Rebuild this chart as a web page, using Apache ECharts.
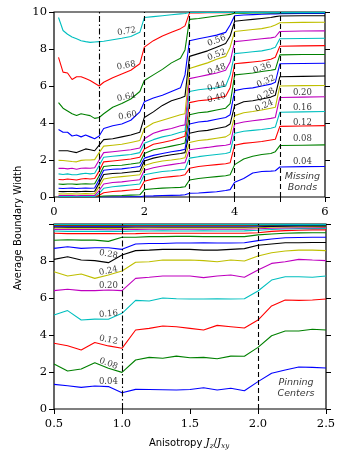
<!DOCTYPE html>
<html>
<head>
<meta charset="utf-8">
<script src="https://cdn.jsdelivr.net/npm/echarts@6/dist/echarts.min.js"></script>
<style>
  html, body { margin: 0; padding: 0; background: #fff; }
  #chart { width: 360px; height: 455px; }
</style>
</head>
<body>
<div id="chart"></div>
<script>
// top panel: missing bonds, x = bond fraction index
const topX = [0.1,0.2,0.3,0.4,0.5,0.6,0.7,0.8,0.9,1.0,1.1,1.3,1.5,1.7,1.9,2.0,2.2,2.4,2.6,2.8,2.9,3.0,3.2,3.4,3.6,3.8,3.9,4.0,4.2,4.4,4.6,4.8,4.9,5.0,5.5,6.0]
const top04 = [0,0,0,0,0,0,0,0,0, 0, 0,0,0,0.01,0.01, 0.05,0.06,0.08,0.09,0.1,0.12, 0.2,0.22,0.25,0.28,0.35,0.4, 0.8,1.0,1.3,1.38,1.4,1.42, 1.62,1.64,1.65]
const top08 = [0,0,0,0,0,0,0,0,0, 0.02, 0.05,0.07,0.08,0.1,0.12, 0.4,0.45,0.48,0.5,0.52,0.55, 0.92,1.0,1.05,1.1,1.15,1.2, 1.75,2.05,2.2,2.3,2.35,2.45, 2.78,2.8,2.82]
const top12 = [0.01,0.01,0.01,0.01,0.01,0.01,0.01,0.01,0.01, 0.1, 0.23,0.3,0.33,0.38,0.42, 0.85,0.98,1.05,1.1,1.15,1.2, 1.55,1.65,1.7,1.75,1.8,1.85, 2.8,2.9,2.95,3.0,3.08,3.12, 3.82,3.84,3.86]
const top16 = [0.03,0.03,0.03,0.03,0.03,0.03,0.03,0.03,0.03, 0.2, 0.47,0.55,0.6,0.65,0.7, 1.2,1.3,1.38,1.42,1.48,1.5, 2.1,2.18,2.24,2.3,2.35,2.42, 3.45,3.55,3.6,3.65,3.72,3.78, 4.58,4.6,4.62]
const top20 = [0.08,0.08,0.08,0.08,0.07,0.08,0.08,0.08,0.09, 0.35, 0.7,0.78,0.82,0.88,0.93, 1.45,1.58,1.68,1.75,1.82,1.86, 2.55,2.62,2.68,2.75,2.8,2.85, 3.95,4.05,4.12,4.18,4.25,4.3, 5.38,5.4,5.42]
const top24 = [0.17,0.16,0.17,0.17,0.16,0.17,0.18,0.17,0.18, 0.55, 0.97,1.05,1.1,1.15,1.2, 1.7,1.85,1.95,2.0,2.07,2.12, 2.95,3.05,3.1,3.18,3.25,3.4, 4.4,4.55,4.62,4.7,4.8,4.85, 6.0,6.02,6.03]
const top28 = [0.3,0.29,0.3,0.3,0.29,0.3,0.31,0.3,0.31, 0.75, 1.22,1.27,1.3,1.35,1.4, 1.95,2.1,2.2,2.28,2.35,2.4, 3.45,3.55,3.6,3.7,3.8,3.95, 4.95,5.15,5.2,5.3,5.4,5.5, 6.5,6.52,6.54]
const top32 = [0.47,0.46,0.47,0.48,0.46,0.47,0.48,0.47,0.49, 0.95, 1.45,1.5,1.52,1.58,1.65, 2.1,2.25,2.35,2.45,2.52,2.58, 3.95,4.05,4.1,4.2,4.3,4.45, 5.75,5.85,5.9,6.0,6.1,6.2, 7.2,7.22,7.23]
const top36 = [0.7,0.68,0.7,0.7,0.68,0.7,0.72,0.7,0.72, 1.15, 1.65,1.7,1.72,1.78,1.85, 2.35,2.55,2.65,2.75,2.85,2.92, 4.45,4.55,4.6,4.7,4.8,5.05, 6.6,6.65,6.7,6.78,6.85,6.9, 7.68,7.7,7.7]
const top40 = [0.95,0.93,0.97,0.95,0.92,0.97,1.0,0.97,1.0, 1.4, 1.9,1.95,2.0,2.05,2.15, 2.6,2.85,2.95,3.05,3.2,3.28, 5.1,5.2,5.25,5.35,5.45,5.9, 7.2,7.25,7.3,7.35,7.45,7.55, 8.15,8.17,8.18]
const top44 = [1.25,1.22,1.25,1.2,1.2,1.25,1.28,1.25,1.28, 1.7, 2.15,2.2,2.25,2.3,2.4, 2.9,3.1,3.25,3.35,3.5,3.55, 5.7,5.8,5.85,5.9,6.0,6.6, 7.75,7.8,7.85,7.9,8.0,8.1, 8.55,8.57,8.58]
const top48 = [1.55,1.55,1.52,1.55,1.5,1.55,1.57,1.55,1.58, 2.0, 2.4,2.45,2.5,2.55,2.65, 3.15,3.45,3.6,3.7,3.85,3.9, 6.4,6.5,6.6,6.7,6.85,7.3, 8.4,8.45,8.5,8.55,8.6,8.65, 8.95,8.97,8.98]
const top52 = [1.98,1.97,1.95,1.92,1.9,1.98,2.0,2.0,2.02, 2.4, 2.75,2.8,2.85,2.95,3.05, 3.7,4.0,4.15,4.3,4.45,4.5, 6.95,7.1,7.25,7.45,7.6,8.1, 8.95,9.0,9.05,9.1,9.2,9.3, 9.42,9.44,9.45]
const top56 = [2.5,2.5,2.5,2.45,2.4,2.5,2.6,2.55,2.5, 2.8, 3.1,3.15,3.25,3.35,3.5, 4.3,4.6,4.95,5.2,5.35,5.45, 7.6,7.75,7.9,8.1,8.3,8.7, 9.5,9.55,9.6,9.65,9.7,9.75, 9.78,9.8,9.8]
const top60 = [3.65,3.5,3.5,3.3,3.35,3.25,3.35,3.25,3.15, 3.3, 3.7,3.85,3.95,4.15,4.6, 5.15,5.35,5.5,5.7,5.9,6.6, 8.45,8.55,8.65,8.75,8.9,9.3, 9.8,9.84,9.86,9.88,9.9,9.9, 9.91,9.92,9.92]
const top64 = [5.1,4.8,4.65,4.5,4.4,4.5,4.45,4.4,4.25, 4.3, 4.5,4.85,5.05,5.3,5.7, 6.3,6.6,6.9,7.25,7.5,7.95, 9.6,9.65,9.72,9.78,9.84,9.87, 9.94,9.94,9.95,9.95,9.95,9.95, 9.95,9.96,9.96]
const top68 = [7.55,6.75,6.7,6.35,6.5,6.5,6.4,6.3,6.15, 6.0, 6.2,6.45,6.65,6.85,7.2, 8.1,8.45,8.7,8.9,9.1,9.25, 9.95,9.95,9.96,9.96,9.96,9.96, 9.97,9.97,9.97,9.97,9.97,9.97, 9.97,9.97,9.97]
const top72 = [9.7,9.0,8.8,8.65,8.55,8.45,8.4,8.36,8.38, 8.4, 8.42,8.5,8.58,8.68,8.9, 9.7,9.75,9.8,9.85,9.9,9.92, 9.97,9.97,9.97,9.98,9.98,9.98, 9.98,9.98,9.98,9.98,9.98,9.98, 9.98,9.98,9.98]

// bottom panel: pinning centers vs anisotropy
const botX = [0.5,0.6,0.7,0.8,0.9,1.0,1.1,1.2,1.3,1.4,1.5,1.6,1.7,1.8,1.9,2.0,2.1,2.2,2.3,2.4,2.5]
const bot04 = [1.33,1.26,1.17,1.24,1.21,0.88,1.06,1.05,1.04,1.03,1.05,1.15,1.03,1.12,0.99,1.48,1.93,2.11,2.27,2.25,2.22]
const bot08 = [2.43,2.05,2.16,2.5,2.2,1.98,2.65,2.79,2.74,2.86,2.77,2.79,2.72,2.86,2.85,3.33,3.96,4.22,4.22,4.31,4.27]
const bot12 = [3.55,3.42,3.19,3.59,3.41,3.28,4.27,4.36,4.49,4.45,4.36,4.27,4.52,4.45,4.38,4.81,5.57,5.89,5.87,5.89,5.95]
const bot16 = [5.08,5.32,4.81,4.86,4.85,5.17,5.87,5.84,6.0,5.96,5.95,5.95,5.96,5.95,5.96,6.38,6.97,7.15,7.15,7.12,7.19]
const bot20 = [6.4,6.47,6.4,6.4,6.43,6.4,7.06,7.12,7.19,7.19,7.19,7.1,7.19,7.24,7.12,7.51,7.87,7.96,8.09,8.05,8.02]
const bot24 = [7.42,7.19,7.3,7.06,7.24,7.46,7.93,7.96,8.05,8.05,8.05,8.02,7.96,8.05,8.0,8.27,8.45,8.54,8.59,8.59,8.56]
const bot28 = [8.09,8.23,8.05,8.02,7.91,8.32,8.56,8.59,8.63,8.63,8.63,8.59,8.59,8.63,8.67,8.85,8.92,8.99,8.99,9.0,9.0]
const bot32 = [8.68,8.77,8.68,8.72,8.72,8.63,8.92,8.95,8.95,8.97,8.97,8.99,8.97,8.97,8.99,9.1,9.19,9.26,9.27,9.28,9.28]
const bot36 = [9.12,9.15,9.13,9.13,9.06,9.28,9.28,9.32,9.32,9.33,9.33,9.32,9.32,9.32,9.32,9.41,9.46,9.5,9.52,9.53,9.53]
const bot40 = [9.5,9.48,9.48,9.48,9.48,9.47,9.48,9.5,9.5,9.5,9.5,9.5,9.5,9.5,9.5,9.53,9.6,9.64,9.66,9.68,9.68]
const bot44 = [9.62,9.6,9.6,9.61,9.6,9.6,9.62,9.62,9.63,9.62,9.62,9.63,9.62,9.62,9.63,9.66,9.7,9.73,9.75,9.75,9.76]
const bot48 = [9.71,9.7,9.7,9.7,9.69,9.7,9.71,9.72,9.72,9.72,9.72,9.72,9.72,9.72,9.72,9.74,9.77,9.79,9.8,9.8,9.81]
const bot52 = [9.78,9.77,9.77,9.77,9.76,9.77,9.78,9.78,9.79,9.79,9.79,9.79,9.79,9.79,9.79,9.8,9.83,9.84,9.85,9.86,9.86]
const bot56 = [9.84,9.83,9.83,9.83,9.83,9.83,9.84,9.84,9.84,9.84,9.84,9.84,9.84,9.84,9.84,9.85,9.87,9.88,9.89,9.9,9.9]
const bot60 = [9.88,9.88,9.88,9.88,9.88,9.88,9.89,9.89,9.89,9.89,9.89,9.89,9.89,9.89,9.89,9.9,9.91,9.92,9.92,9.93,9.93]
const bot64 = [9.92,9.92,9.92,9.92,9.92,9.92,9.93,9.93,9.93,9.93,9.93,9.93,9.93,9.93,9.93,9.94,9.94,9.95,9.95,9.95,9.95]
const bot68 = [9.95,9.95,9.95,9.95,9.95,9.95,9.95,9.95,9.95,9.95,9.95,9.95,9.95,9.95,9.95,9.96,9.96,9.97,9.97,9.97,9.97]
const bot72 = [9.97,9.97,9.97,9.97,9.97,9.97,9.97,9.97,9.97,9.97,9.97,9.97,9.97,9.97,9.97,9.98,9.98,9.98,9.98,9.98,9.98]

// line annotations
const topLabels = ['0.72','0.68','0.64','0.60','0.56','0.52','0.48','0.44','0.40','0.36','0.32','0.28','0.24','0.20','0.16','0.12','0.08','0.04']
const topLabelX = [1.61,1.6,1.6,1.63,3.6,3.6,3.6,3.6,3.6,4.61,4.69,4.69,4.65,5.5,5.5,5.5,5.5,5.5]
const topLabelY = [8.95,7.1,5.4,4.4,8.45,7.68,6.9,5.98,5.35,6.98,6.25,5.52,4.92,5.62,4.84,4.03,3.13,1.92]
const topLabelRot = [10,10,12,10,20,20,20,15,15,18,24,30,24,0,0,0,0,0]
const botLabels = ['0.28','0.24','0.20','0.16','0.12','0.08','0.04']
const botLabelX = [0.9,0.9,0.9,0.9,0.9,0.9,0.9]
const botLabelY = [8.36,7.46,6.67,5.14,3.73,2.45,1.48]
const botLabelRot = [-10,12,0,5,-12,-20,0]

const colors = ['#0000ff', '#008000', '#ff0000', '#00bfbf', '#bf00bf', '#bfbf00', '#000000']
const topSets = [top04, top08, top12, top16, top20, top24, top28, top32, top36, top40, top44, top48, top52, top56, top60, top64, top68, top72]
const botSets = [bot04, bot08, bot12, bot16, bot20, bot24, bot28, bot32, bot36, bot40, bot44, bot48, bot52, bot56, bot60, bot64, bot68, bot72]

const tickFont = { fontFamily: 'DejaVu Serif', fontSize: 11.5, color: '#000' }
const dashDot = [6, 2.5, 1.5, 2.5]
const dashed = [5, 3]

const chart = echarts.init(document.getElementById('chart'), null, { renderer: 'canvas' })

const lineSeries = (sets, xs, gi) => sets.map((ys, i) => ({
  type: 'line',
  xAxisIndex: gi,
  yAxisIndex: gi * 2,
  data: xs.map((x, j) => [x, ys[j]]),
  symbol: 'none',
  lineStyle: { width: 1.1, color: colors[i % 7] },
  silent: true,
  z: 2
}))

const labelSeries = (texts, xs, ys, rots, gi) => ({
  type: 'scatter',
  xAxisIndex: gi,
  yAxisIndex: gi * 2,
  symbolSize: 1,
  itemStyle: { color: 'rgba(0,0,0,0)' },
  silent: true,
  z: 5,
  data: texts.map((t, i) => ({
    value: [xs[i], ys[i]],
    label: {
      show: true, position: 'inside', formatter: t, rotate: rots[i],
      fontFamily: 'DejaVu Serif', fontSize: 8.5, color: '#000'
    }
  }))
})

const noteSeries = (text, x, y, gi) => ({
  type: 'scatter',
  xAxisIndex: gi,
  yAxisIndex: gi * 2,
  symbolSize: 1,
  itemStyle: { color: 'rgba(0,0,0,0)' },
  silent: true,
  z: 5,
  data: [{
    value: [x, y],
    label: {
      show: true, position: 'inside', formatter: text, align: 'center',
      fontFamily: 'DejaVu Sans', fontStyle: 'italic', fontSize: 9.5, lineHeight: 11, color: '#000'
    }
  }]
})

const vLines = (lines, gi) => ({
  type: 'line',
  xAxisIndex: gi,
  yAxisIndex: gi * 2,
  data: [],
  silent: true,
  markLine: {
    symbol: 'none',
    silent: true,
    animation: false,
    label: { show: false },
    data: lines.map(l => ({ xAxis: l[0], lineStyle: { color: '#000', width: 1.1, type: l[1] } }))
  }
})

const yAxisBase = (gi, side, showLabel, fmt) => ({
  type: 'value',
  gridIndex: gi,
  position: side,
  min: 0,
  max: 10,
  interval: 2,
  axisLine: { show: false },
  axisTick: { show: true, inside: false, length: 5, lineStyle: { color: '#000' } },
  axisLabel: Object.assign({ show: showLabel, margin: 7, formatter: fmt }, tickFont),
  splitLine: { show: false }
})

const option = {
  animation: false,
  backgroundColor: '#fff',
  grid: [
    { left: 54, top: 12, width: 271, height: 185, show: true, borderColor: '#000', borderWidth: 1.2, backgroundColor: 'transparent' },
    { left: 54, top: 224, width: 272, height: 185, show: true, borderColor: '#000', borderWidth: 1.2, backgroundColor: 'transparent' }
  ],
  xAxis: [
    {
      type: 'value', gridIndex: 0, min: 0, max: 6, interval: 1,
      axisLine: { show: false },
      axisTick: { show: true, inside: false, length: 5, lineStyle: { color: '#000' } },
      axisLabel: Object.assign({ margin: 9, formatter: v => (v % 2 === 0 ? String(v) : '') }, tickFont),
      splitLine: { show: false }
    },
    {
      type: 'value', gridIndex: 1, min: 0.5, max: 2.5, interval: 0.5,
      axisLine: { show: false },
      axisTick: { show: true, inside: false, length: 5, lineStyle: { color: '#000' } },
      axisLabel: Object.assign({ margin: 9, formatter: v => v.toFixed(1) }, tickFont),
      splitLine: { show: false }
    }
  ],
  yAxis: [
    yAxisBase(0, 'left', true, v => String(v)),
    yAxisBase(0, 'right', false),
    yAxisBase(1, 'left', true, v => (v < 10 ? String(v) : '')),
    yAxisBase(1, 'right', false)
  ],
  graphic: [
    {
      type: 'text', x: 18, y: 228, rotation: Math.PI / 2,
      style: { text: 'Average Boundary Width', font: '10px "DejaVu Sans"', fill: '#000', align: 'center', verticalAlign: 'middle' }
    },
    {
      type: 'text', x: 189, y: 443,
      style: {
        text: 'Anisotropy {j|J}{s|z}{n|/}{j|J}{s|xy}',
        font: '10px "DejaVu Sans"', fill: '#000', align: 'center', verticalAlign: 'middle',
        rich: {
          j: { fontFamily: 'DejaVu Serif', fontStyle: 'italic', fontSize: 10.5, lineHeight: 14, verticalAlign: 'middle' },
          s: { fontFamily: 'DejaVu Serif', fontStyle: 'italic', fontSize: 7, lineHeight: 14, verticalAlign: 'bottom' },
          n: { fontFamily: 'DejaVu Serif', fontSize: 10.5, lineHeight: 14 }
        }
      }
    }
  ],
  series: [
    ...lineSeries(topSets, topX, 0),
    ...lineSeries(botSets, botX, 1),
    vLines([[1, dashDot], [2, dashed], [3, dashed], [4, dashed], [5, dashed]], 0),
    vLines([[1.0, dashDot], [2.0, dashed]], 1),
    labelSeries(topLabels, topLabelX, topLabelY, topLabelRot, 0),
    labelSeries(botLabels, botLabelX, botLabelY, botLabelRot, 1),
    noteSeries('Missing\nBonds', 5.5, 0.8, 0),
    noteSeries('Pinning\nCenters', 2.28, 1.12, 1)
  ]
}

chart.setOption(option)
</script>
</body>
</html>
